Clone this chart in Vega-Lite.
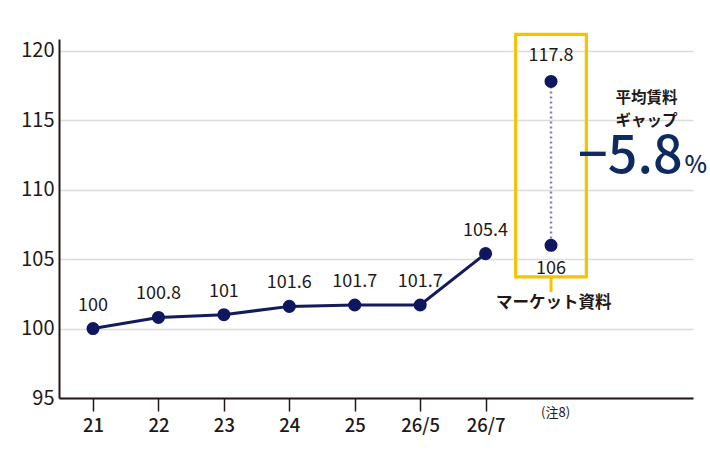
{
  "$schema": "https://vega.github.io/schema/vega-lite/v6.json",
  "width": 634,
  "height": 359,
  "autosize": {"type": "none"},
  "padding": {"left": 59, "top": 39, "right": 17, "bottom": 72},
  "background": "white",
  "config": {
    "font": "Noto Sans CJK JP",
    "view": {"stroke": null}
  },
  "encoding": {
    "x": {
      "field": "x",
      "type": "quantitative",
      "scale": {"domain": [-0.52, 9.17], "nice": false, "zero": false},
      "axis": {
        "title": null,
        "values": [0, 1, 2, 3, 4, 5, 6],
        "labelExpr": "['21','22','23','24','25','26/5','26/7'][datum.value]",
        "grid": false,
        "domainColor": "#231815",
        "domainWidth": 2,
        "tickColor": "#231815",
        "tickWidth": 1.5,
        "tickSize": 13,
        "labelFontSize": 18.5,
        "labelFontWeight": 500,
        "labelColor": "#231815",
        "labelPadding": 5
      }
    },
    "y": {
      "field": "y",
      "type": "quantitative",
      "scale": {"domain": [95, 120.86], "nice": false, "zero": false},
      "axis": {
        "title": null,
        "values": [95, 100, 105, 110, 115, 120],
        "grid": true,
        "gridColor": "#dcdcdc",
        "gridWidth": 1.5,
        "ticks": false,
        "domainColor": "#231815",
        "domainWidth": 2,
        "labelFontSize": 20,
        "labelColor": "#231815",
        "labelPadding": 5
      }
    }
  },
  "layer": [
    {
      "data": {"values": [{"x": 6.46, "x_end": 7.54, "y": 121.19, "y_end": 103.72}]},
      "mark": {"type": "rect", "fillOpacity": 0, "stroke": "#f5c300", "strokeWidth": 3.2, "clip": false},
      "encoding": {"x2": {"field": "x_end"}, "y2": {"field": "y_end"}}
    },
    {
      "data": {"values": [{"x": 7, "y": 103.72, "y_end": 102.64}]},
      "mark": {"type": "rule", "color": "#f5c300", "strokeWidth": 3},
      "encoding": {"y2": {"field": "y_end"}}
    },
    {
      "data": {"values": [{"x": 7, "y": 117.8, "pos": "top"}, {"x": 7, "y": 106, "pos": "bottom"}]},
      "mark": {"type": "line", "color": "#8580bd", "strokeWidth": 2.5, "strokeDash": [2, 3]}
    },
    {
      "data": {"name": "series", "values": [
        {"x": 0, "y": 100, "label": "100"},
        {"x": 1, "y": 100.8, "label": "100.8"},
        {"x": 2, "y": 101, "label": "101"},
        {"x": 3, "y": 101.6, "label": "101.6"},
        {"x": 4, "y": 101.7, "label": "101.7"},
        {"x": 5, "y": 101.7, "label": "101.7"},
        {"x": 6, "y": 105.4, "label": "105.4"}
      ]},
      "layer": [
        {"mark": {"type": "line", "color": "#141a5e", "strokeWidth": 3}},
        {"mark": {"type": "circle", "color": "#0f1761", "opacity": 1, "size": 170}},
        {
          "mark": {"type": "text", "dy": -23, "fontSize": 18, "color": "#231815"},
          "encoding": {"text": {"field": "label"}}
        }
      ]
    },
    {
      "data": {"values": [{"x": 7, "y": 117.8, "label": "117.8", "pos": "top"}, {"x": 7, "y": 106, "label": "106", "pos": "bottom"}]},
      "layer": [
        {"mark": {"type": "circle", "color": "#0f1761", "opacity": 1, "size": 170}},
        {
          "transform": [{"filter": "datum.pos == 'top'"}],
          "mark": {"type": "text", "dy": -25, "fontSize": 18, "color": "#231815"},
          "encoding": {"text": {"field": "label"}}
        },
        {
          "transform": [{"filter": "datum.pos == 'bottom'"}],
          "mark": {"type": "text", "dy": 24, "fontSize": 18, "color": "#231815"},
          "encoding": {"text": {"field": "label"}}
        }
      ]
    },
    {
      "data": {"values": [{"x": 7.04, "y": 101.84, "text": "マーケット資料"}]},
      "mark": {"type": "text", "fontSize": 16.5, "fontWeight": "bold", "color": "#231815"},
      "encoding": {"text": {"field": "text"}}
    },
    {
      "data": {"values": [{"x": 8.46, "y": 116.6, "text": "平均賃料"}, {"x": 8.46, "y": 114.92, "text": "ギャップ"}]},
      "mark": {"type": "text", "fontSize": 15.5, "fontWeight": "bold", "color": "#231815"},
      "encoding": {"text": {"field": "text"}}
    },
    {
      "data": {"values": [{"x": 9.01, "y": 111.21, "text": "−5.8"}]},
      "mark": {"type": "text", "fontSize": 52, "fontWeight": 500, "align": "right", "baseline": "alphabetic", "color": "#0e2a5e"},
      "encoding": {"text": {"field": "text"}}
    },
    {
      "data": {"values": [{"x": 9.04, "y": 111.21, "text": "%"}]},
      "mark": {"type": "text", "fontSize": 24, "fontWeight": 500, "align": "left", "baseline": "alphabetic", "color": "#0e2a5e"},
      "encoding": {"text": {"field": "text"}}
    },
    {
      "data": {"values": [{"x": 7.07, "y": 93.95, "text": "(注8)"}]},
      "mark": {"type": "text", "fontSize": 13, "color": "#231815"},
      "encoding": {"text": {"field": "text"}}
    }
  ]
}
